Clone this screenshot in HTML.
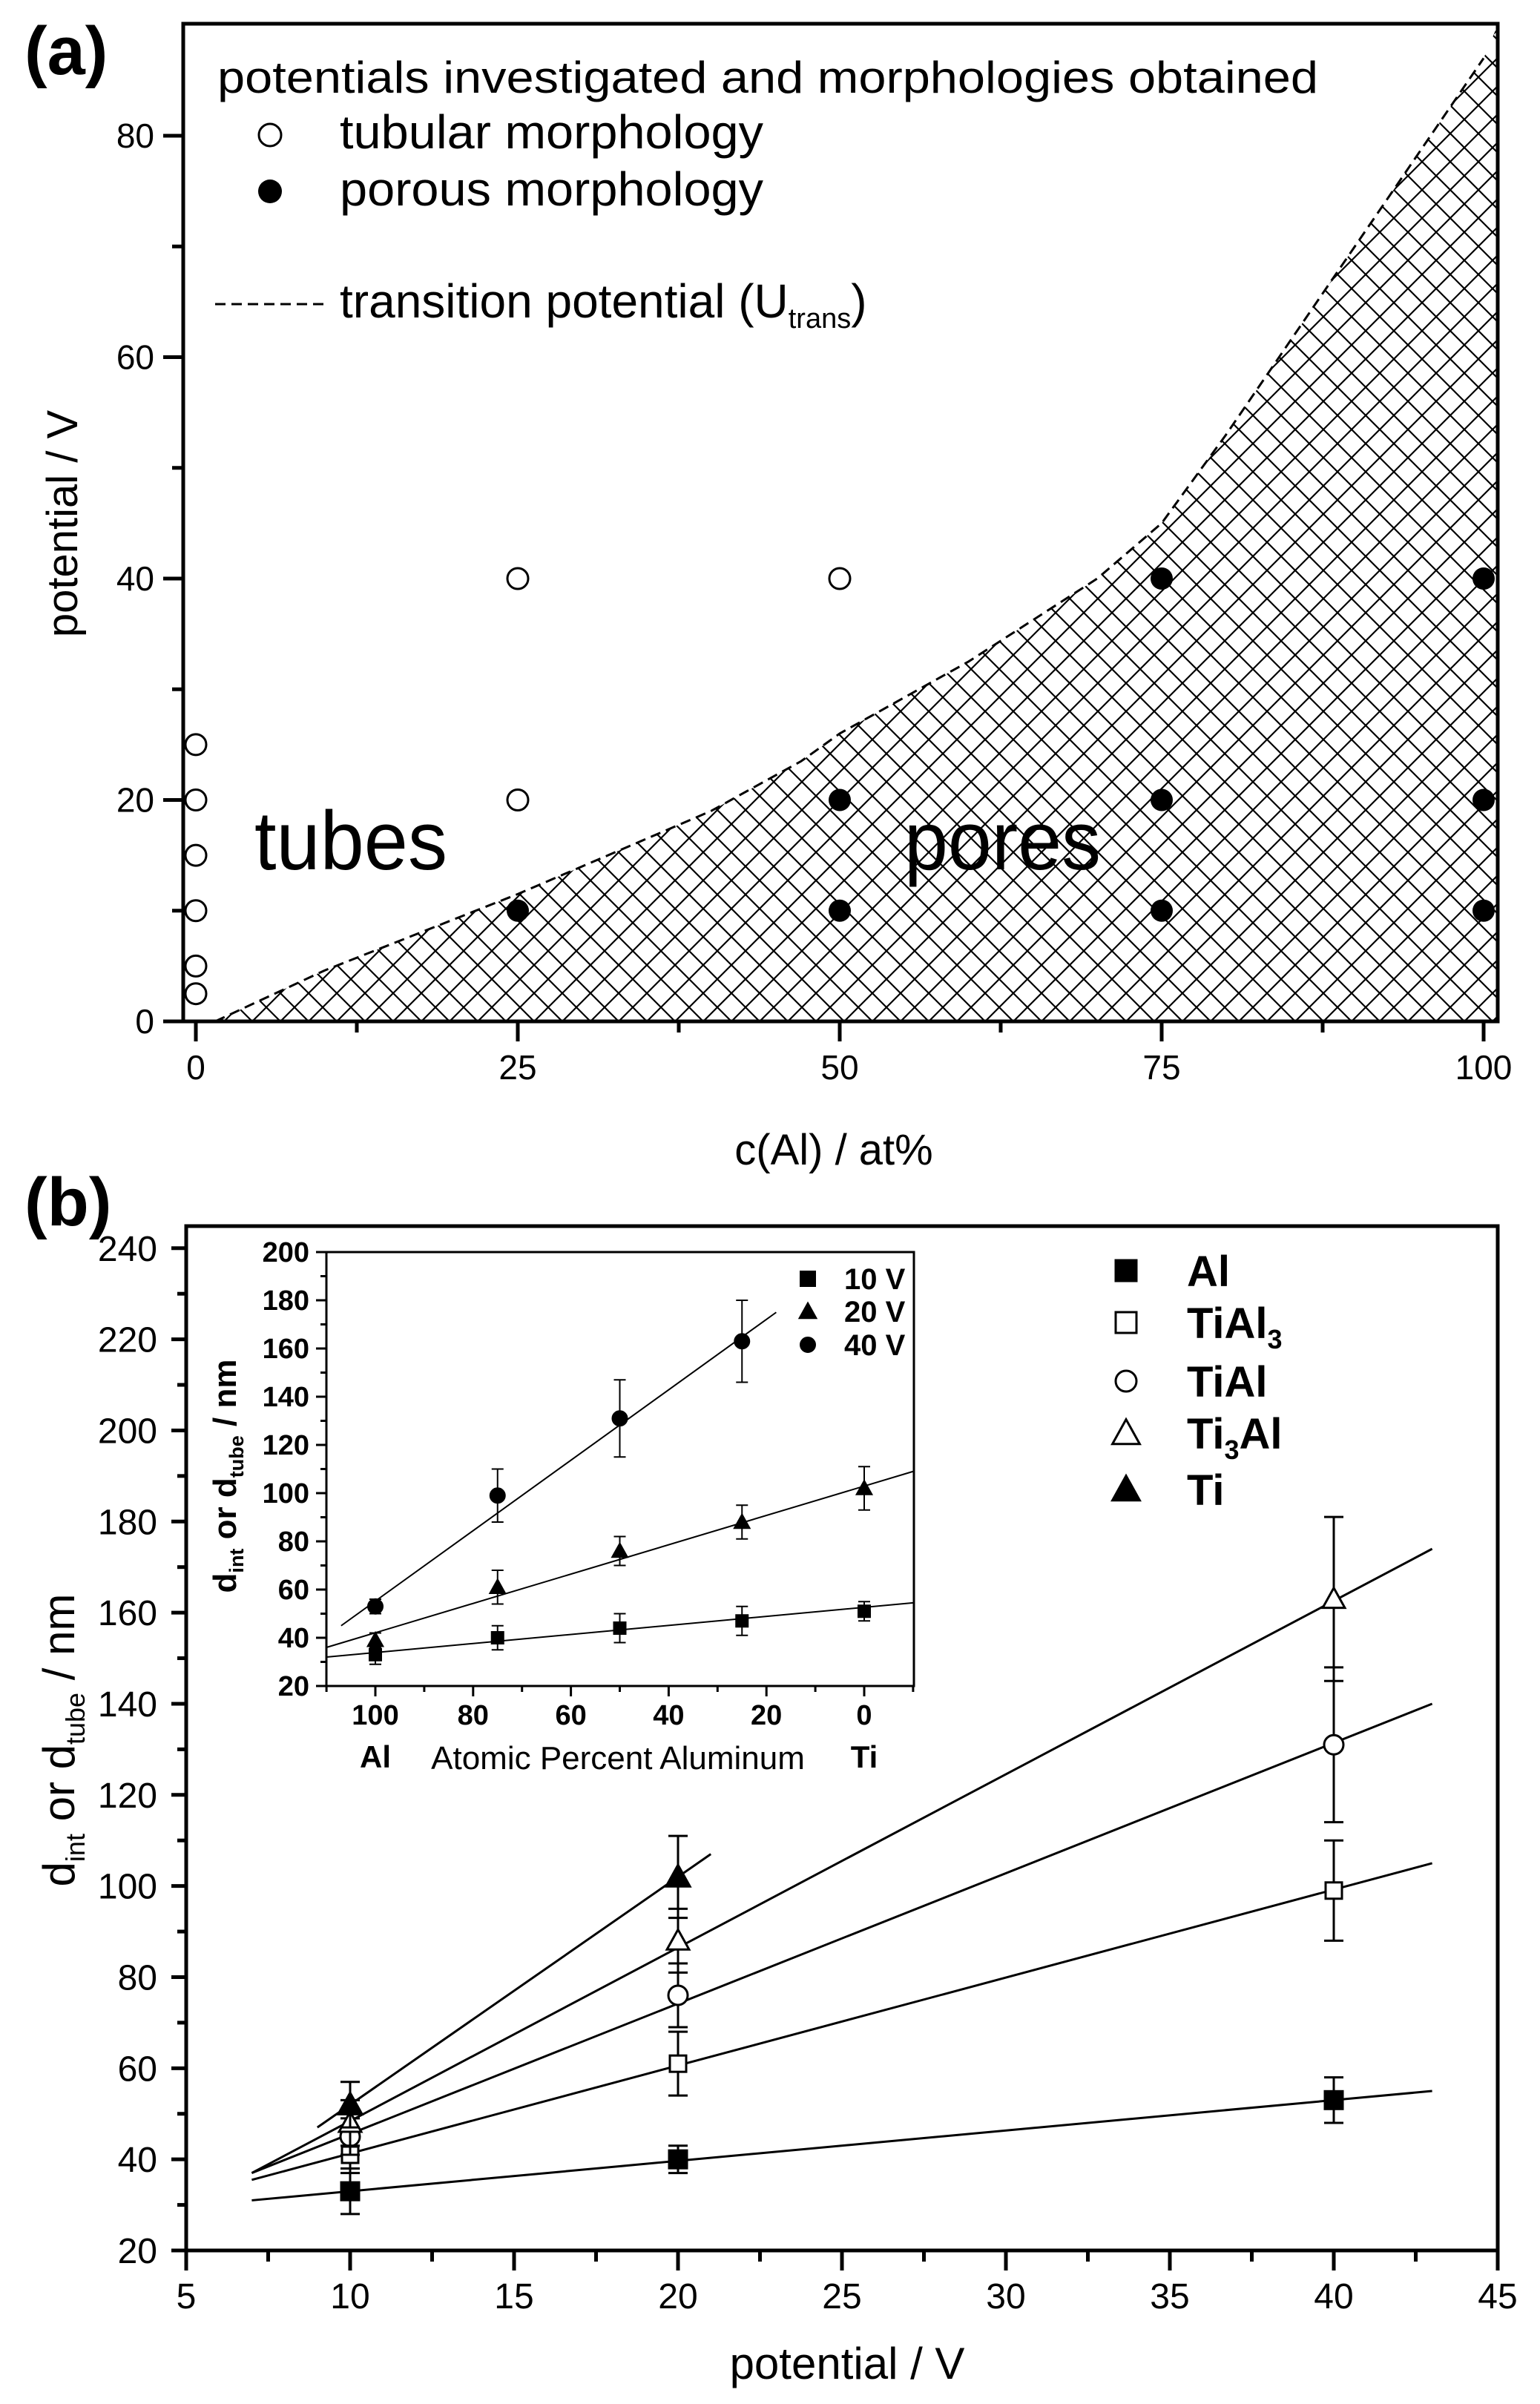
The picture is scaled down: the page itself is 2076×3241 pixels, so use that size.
<!DOCTYPE html>
<html><head><meta charset="utf-8"><style>
html,body{margin:0;padding:0;background:#fff;}
svg{display:block;font-family:"Liberation Sans",sans-serif;}
</style></head><body>
<svg id="fig" xmlns="http://www.w3.org/2000/svg" width="2076" height="3241" viewBox="0 0 2076 3241">
<defs>
<pattern id="hatch" patternUnits="userSpaceOnUse" width="38" height="38" x="264" y="1377">
<path d="M0 0L38 38M0 38L38 0" stroke="#000" stroke-width="2.2" fill="none"/>
</pattern>
</defs>
<g id="pa"></g>
<g id="pb"></g>
<g id="pi"></g>
</svg>
<script>
// ---- Panel (a) data ----
const aTickX = [0, 25, 50, 75, 100];
const aTickY = [0, 20, 40, 60, 80];
const tubX = [0, 0, 0, 0, 0, 0, 25, 25, 50];
const tubY = [2.5, 5, 10, 15, 20, 25, 20, 40, 40];
const porX = [25, 50, 50, 75, 75, 75, 100, 100, 100];
const porY = [10, 10, 20, 10, 20, 40, 10, 20, 40];
const transX = [1.5, 10, 25, 40, 47, 50, 60, 70, 75, 80, 90, 100];
const transY = [0, 4.6, 11.5, 19, 23.5, 26, 32.5, 40, 45, 53, 70, 87];
// ---- Panel (b) data ----
const bTickX = [5, 10, 15, 20, 25, 30, 35, 40, 45];
const bTickY = [20, 40, 60, 80, 100, 120, 140, 160, 180, 200, 220, 240];
const bPot = [10, 20, 40];
const alVal = [33, 40, 53];      const alErr = [5, 3, 5];
const tial3Val = [41, 61, 99];   const tial3Err = [4, 7, 11];
const tialVal = [45, 76, 131];   const tialErr = [4, 7, 17];
const ti3alVal = [48, 88, 163];  const ti3alErr = [5, 7, 18];
const tiPot = [10, 20];
const tiVal = [52, 102];         const tiErr = [5, 9];
const fitAlX = [7, 43];     const fitAlY = [31, 55];
const fitTial3X = [7, 43];  const fitTial3Y = [35.5, 105];
const fitTialX = [7, 43];   const fitTialY = [37, 140];
const fitTi3alX = [7, 43];  const fitTi3alY = [37, 174];
const fitTiX = [9, 21];     const fitTiY = [47, 107];
// ---- Inset data ----
const iTickX = [100, 80, 60, 40, 20, 0];
const iTickY = [20, 40, 60, 80, 100, 120, 140, 160, 180, 200];
const iAl = [100, 75, 50, 25, 0];
const v10 = [33, 40, 44, 47, 51];   const v10e = [4, 5, 6, 6, 4];
const v20 = [39, 61, 76, 88, 102];  const v20e = [3, 7, 6, 7, 9];
const iAl40 = [100, 75, 50, 25];
const v40 = [53, 99, 131, 163];     const v40e = [3, 11, 16, 17];
const fit10X = [110, -10]; const fit10Y = [32, 54.5];
const fit20X = [110, -10]; const fit20Y = [36, 109];
const fit40X = [107, 18];  const fit40Y = [45, 175];

const NS = "http://www.w3.org/2000/svg";
function mk(parent, tag, attrs, text) {
  const e = document.createElementNS(NS, tag);
  for (const k in attrs) e.setAttribute(k, attrs[k]);
  if (text !== undefined) e.textContent = text;
  parent.appendChild(e);
  return e;
}
function line(p, x1, y1, x2, y2, w) { return mk(p, "line", {x1, y1, x2, y2, stroke: "#000", "stroke-width": w}); }

// ===== Panel A =====
const A = document.getElementById("pa");
const xa = v => 264 + v * 17.36;
const ya = v => 1377 - v * 14.925;
let t = mk(A, "text", {x: 33, y: 100, "font-size": 92, "font-weight": "bold"}, "(a)");


let d = "M" + xa(transX[0]) + " " + ya(0);
for (let i = 0; i < transX.length; i++) d += " L" + xa(transX[i]) + " " + ya(transY[i]);
d += " L2019 " + ya(90) + " L2019 " + ya(0) + " Z";
let hz = mk(A, "path", {d, fill: "url(#hatch)", stroke: "none"});


let td = "M" + xa(transX[0]) + " " + ya(transY[0]);
for (let i = 1; i < transX.length; i++) td += " L" + xa(transX[i]) + " " + ya(transY[i]);
let tl = mk(A, "path", {d: td, fill: "none", stroke: "#000", "stroke-width": 3, "stroke-dasharray": "14 8"});


let fa = mk(A, "rect", {x: 247, y: 32, width: 1772, height: 1345, fill: "none", stroke: "#000", "stroke-width": 5});


for (let v = 0; v <= 100; v += 12.5) {
  const maj = v % 25 === 0;
  line(A, xa(v), 1377, xa(v), 1377 + (maj ? 27 : 15), 5);
}
aTickX.forEach(v => {
  const e = mk(A, "text", {x: xa(v), y: 1455, "font-size": 46, "text-anchor": "middle"}, String(v));
  
  
});
for (let v = 0; v <= 80; v += 10) {
  const maj = v % 20 === 0;
  line(A, 247, ya(v), 247 - (maj ? 27 : 15), ya(v), 5);
}
aTickY.forEach(v => {
  const e = mk(A, "text", {x: 208, y: ya(v) + 16, "font-size": 46, "text-anchor": "end"}, String(v));
  
  
});
t = mk(A, "text", {x: 1124, y: 1570, "font-size": 58, "text-anchor": "middle"}, "c(Al) / at%");


t = mk(A, "text", {x: 0, y: 0, "font-size": 58, "text-anchor": "middle", transform: "translate(104 706) rotate(-90)"}, "potential / V");


tubX.forEach((v, i) => {
  const c = mk(A, "circle", {cx: xa(v), cy: ya(tubY[i]), r: 14, fill: "#fff", stroke: "#000", "stroke-width": 3});
  
  
});
porX.forEach((v, i) => {
  const c = mk(A, "circle", {cx: xa(v), cy: ya(porY[i]), r: 15, fill: "#000"});
  
  
});
t = mk(A, "text", {x: 343, y: 1172, "font-size": 112, textLength: 260, lengthAdjust: "spacingAndGlyphs"}, "tubes");


t = mk(A, "text", {x: 1219, y: 1172, "font-size": 112, textLength: 265, lengthAdjust: "spacingAndGlyphs"}, "pores");


t = mk(A, "text", {x: 293, y: 125, "font-size": 60, textLength: 1484, lengthAdjust: "spacingAndGlyphs"}, "potentials investigated and morphologies obtained");


let lc = mk(A, "circle", {cx: 364, cy: 182, r: 15, fill: "#fff", stroke: "#000", "stroke-width": 3});


t = mk(A, "text", {x: 458, y: 200, "font-size": 64, textLength: 571, lengthAdjust: "spacingAndGlyphs"}, "tubular morphology");


lc = mk(A, "circle", {cx: 364, cy: 258, r: 16, fill: "#000"});


t = mk(A, "text", {x: 458, y: 277, "font-size": 64, textLength: 571, lengthAdjust: "spacingAndGlyphs"}, "porous morphology");


let ld = mk(A, "line", {x1: 290, y1: 410, x2: 440, y2: 410, stroke: "#000", "stroke-width": 3, "stroke-dasharray": "14 8"});


t = mk(A, "text", {x: 458, y: 428, "font-size": 64}, "transition potential (U");


mk(t, "tspan", {"font-size": 38, dy: 14}, "trans");
mk(t, "tspan", {"font-size": 64, dy: -14}, ")");

// ===== Panel B =====
const B = document.getElementById("pb");
const xb = v => 251 + (v - 5) * 44.2;
const yb = v => 3034 - (v - 20) * 6.142;
t = mk(B, "text", {x: 33, y: 1652, "font-size": 92, "font-weight": "bold"}, "(b)");


let fb = mk(B, "rect", {x: 251, y: 1653, width: 1768, height: 1381, fill: "none", stroke: "#000", "stroke-width": 5});


for (let v = 5; v <= 45; v += 2.5) {
  const maj = v % 5 === 0;
  line(B, xb(v), 3034, xb(v), 3034 + (maj ? 27 : 15), 5);
}
bTickX.forEach(v => {
  const e = mk(B, "text", {x: xb(v), y: 3112, "font-size": 48, "text-anchor": "middle"}, String(v));
  
  
});
for (let v = 20; v <= 240; v += 10) {
  const maj = v % 20 === 0;
  line(B, 251, yb(v), 251 - (maj ? 20 : 12), yb(v), 5);
}
bTickY.forEach(v => {
  const e = mk(B, "text", {x: 212, y: yb(v) + 17, "font-size": 48, "text-anchor": "end"}, String(v));
  
  
});
t = mk(B, "text", {x: 1142, y: 3207, "font-size": 60, "text-anchor": "middle"}, "potential / V");


t = mk(B, "text", {x: 0, y: 0, "font-size": 60, "text-anchor": "middle", transform: "translate(100 2346) rotate(-90)"}, "d");


mk(t, "tspan", {"font-size": 36, dy: 14}, "int");
mk(t, "tspan", {"font-size": 60, dy: -14}, " or d");
mk(t, "tspan", {"font-size": 36, dy: 14}, "tube");
mk(t, "tspan", {"font-size": 60, dy: -14}, " / nm");

function fit(p, X, Y, fx, fy, w, name) {
  const l = mk(p, "line", {x1: fx(X[0]), y1: fy(Y[0]), x2: fx(X[1]), y2: fy(Y[1]), stroke: "#000", "stroke-width": w});
  
  
}
function marker(p, type, cx, cy, s, sw) {
  let e;
  if (type === "sqF" || type === "sqO") e = mk(p, "rect", {x: cx - s, y: cy - s, width: 2 * s, height: 2 * s, fill: type === "sqF" ? "#000" : "#fff", stroke: "#000", "stroke-width": sw});
  else if (type === "ciF" || type === "ciO") e = mk(p, "circle", {cx, cy, r: s, fill: type === "ciF" ? "#000" : "#fff", stroke: "#000", "stroke-width": sw});
  else {
    const h = s * 1.15;
    e = mk(p, "polygon", {points: `${cx},${cy - h} ${cx + h},${cy + h * 0.8} ${cx - h},${cy + h * 0.8}`, fill: type === "trF" ? "#000" : "#fff", stroke: "#000", "stroke-width": sw});
  }
  return e;
}
function series(p, X, V, E, type, fx, fy, s, cap, sw, name) {
  X.forEach((x, i) => {
    const px = fx(x);
    const eb = mk(p, "path", {d: `M${px - cap} ${fy(V[i] + E[i])}H${px + cap}M${px} ${fy(V[i] + E[i])}V${fy(V[i] - E[i])}M${px - cap} ${fy(V[i] - E[i])}H${px + cap}`, stroke: "#000", "stroke-width": sw, fill: "none"});
    
    
    const m = marker(p, type, px, fy(V[i]), s, sw);
    
    
  });
}
fit(B, fitAlX, fitAlY, xb, yb, 3, "fit-al");
fit(B, fitTial3X, fitTial3Y, xb, yb, 3, "fit-tial3");
fit(B, fitTialX, fitTialY, xb, yb, 3, "fit-tial");
fit(B, fitTi3alX, fitTi3alY, xb, yb, 3, "fit-ti3al");
fit(B, fitTiX, fitTiY, xb, yb, 3, "fit-ti");
series(B, bPot, tial3Val, tial3Err, "sqO", xb, yb, 11, 13, 3, "tial3");
series(B, bPot, tialVal, tialErr, "ciO", xb, yb, 13, 13, 3, "tial");
series(B, bPot, ti3alVal, ti3alErr, "trO", xb, yb, 13, 13, 3, "ti3al");
series(B, tiPot, tiVal, tiErr, "trF", xb, yb, 14, 13, 3, "ti");
series(B, bPot, alVal, alErr, "sqF", xb, yb, 12, 13, 3, "al");
const legNames = ["Al", "TiAl", "TiAl", "Ti", "Ti"];
const legTypes = ["sqF", "sqO", "ciO", "trO", "trF"];
const legY = [1713, 1783, 1862, 1932, 2008];
legNames.forEach((n, i) => {
  const m = marker(B, legTypes[i], 1518, legY[i], legTypes[i].startsWith("tr") ? 16 : 14, 3);
  
  
  const tx = mk(B, "text", {x: 1600, y: legY[i] + 21, "font-size": 58, "font-weight": "bold"}, n);
  
  
  if (i === 1) mk(tx, "tspan", {"font-size": 36, dy: 14}, "3");
  if (i === 3) { mk(tx, "tspan", {"font-size": 36, dy: 14}, "3"); mk(tx, "tspan", {"font-size": 58, dy: -14}, "Al"); }
});

// ===== Inset =====
const I = document.getElementById("pi");
const xi = v => 1165 - v * 6.59;
const yi = v => 2273 - (v - 20) * 3.25;
let fi = mk(I, "rect", {x: 440, y: 1688, width: 792, height: 585, fill: "none", stroke: "#000", "stroke-width": 3});


for (let v = 110; v >= -10; v -= 10) {
  const maj = v % 20 === 0;
  line(I, xi(v), 2273, xi(v), 2273 + (maj ? 14 : 8), 3);
}
iTickX.forEach(v => {
  const e = mk(I, "text", {x: xi(v), y: 2325, "font-size": 38, "text-anchor": "middle", "font-weight": "bold"}, String(v));
  
  
});
for (let v = 20; v <= 200; v += 10) {
  const maj = v % 20 === 0;
  line(I, 440, yi(v), 440 - (maj ? 14 : 8), yi(v), 3);
}
iTickY.forEach(v => {
  const e = mk(I, "text", {x: 417, y: yi(v) + 13, "font-size": 38, "text-anchor": "end", "font-weight": "bold"}, String(v));
  
  
});
t = mk(I, "text", {x: xi(100), y: 2383, "font-size": 42, "font-weight": "bold", "text-anchor": "middle"}, "Al");


t = mk(I, "text", {x: xi(0), y: 2383, "font-size": 42, "font-weight": "bold", "text-anchor": "middle"}, "Ti");


t = mk(I, "text", {x: 833, y: 2385, "font-size": 44, "text-anchor": "middle"}, "Atomic Percent Aluminum");


t = mk(I, "text", {x: 0, y: 0, "font-size": 44, "text-anchor": "middle", "font-weight": "bold", transform: "translate(318 1990) rotate(-90)"}, "d");


mk(t, "tspan", {"font-size": 27, dy: 10}, "int");
mk(t, "tspan", {"font-size": 44, dy: -10}, " or d");
mk(t, "tspan", {"font-size": 27, dy: 10}, "tube");
mk(t, "tspan", {"font-size": 44, dy: -10}, " / nm");
fit(I, fit10X, fit10Y, xi, yi, 2, "inset-fit-10v");
fit(I, fit20X, fit20Y, xi, yi, 2, "inset-fit-20v");
fit(I, fit40X, fit40Y, xi, yi, 2, "inset-fit-40v");
series(I, iAl, v10, v10e, "sqF", xi, yi, 8, 8, 2, "inset-10v");
series(I, iAl, v20, v20e, "trF", xi, yi, 9, 8, 2, "inset-20v");
series(I, iAl40, v40, v40e, "ciF", xi, yi, 10, 8, 2, "inset-40v");
const iLegN = ["10 V", "20 V", "40 V"];
const iLegT = ["sqF", "trF", "ciF"];
const iLegY = [1724, 1768, 1813];
iLegN.forEach((n, i) => {
  const m = marker(I, iLegT[i], 1089, iLegY[i], 10, 2);
  
  
  const tx = mk(I, "text", {x: 1138, y: iLegY[i] + 14, "font-size": 40, "font-weight": "bold"}, n);
  
  
});
</script>
</body></html>
